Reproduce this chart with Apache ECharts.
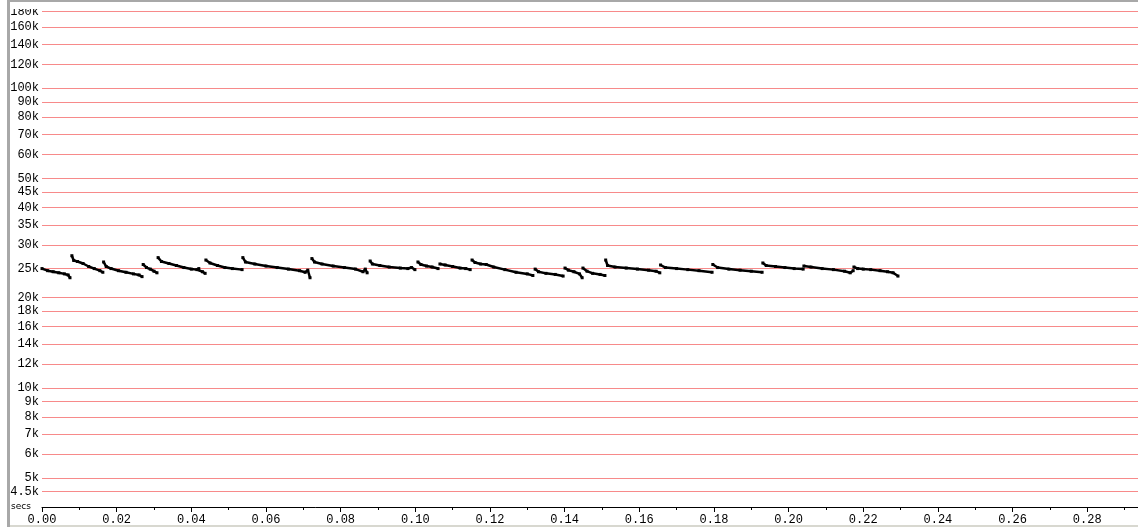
<!DOCTYPE html>
<html>
<head>
<meta charset="utf-8">
<script src="https://cdn.jsdelivr.net/npm/echarts@6/dist/echarts.min.js"></script>
<style>
html,body{margin:0;padding:0;background:#fff;}
#chart{width:1138px;height:527px;}
</style>
</head>
<body>
<div id="chart"></div>
<script>
// Y tick values (gridlines / labels)
const yTicks = [4500, 5000, 6000, 7000, 8000, 9000, 10000, 12000, 14000, 16000, 18000, 20000,
  25000, 30000, 35000, 40000, 45000, 50000, 60000, 70000, 80000, 90000, 100000, 120000, 140000, 160000, 180000];

// Data: time in secs, rate in thousands; null separates segments
const secs = [
  0.0000,0.0015,0.0030,0.0045,0.0060,0.0070,0.0075,null,
  0.0080,0.0085,0.0095,0.0110,0.0125,0.0140,0.0155,0.0163,null,
  0.0165,0.0172,0.0185,0.0205,0.0225,0.0245,0.0260,0.0268,null,
  0.0271,0.0280,0.0290,0.0300,0.0308,null,
  0.0311,0.0320,0.0340,0.0360,0.0380,0.0400,0.0415,0.0420,0.0430,0.0437,null,
  0.0439,0.0450,0.0470,0.0490,0.0510,0.0536,null,
  0.0538,0.0545,0.0570,0.0600,0.0630,0.0660,0.0690,0.0705,0.0712,0.0718,null,
  0.0723,0.0730,0.0750,0.0780,0.0810,0.0840,0.0860,0.0866,0.0871,null,
  0.0879,0.0885,0.0905,0.0930,0.0960,0.0980,0.0990,0.0999,null,
  0.1007,0.1015,0.1030,0.1045,0.1061,null,
  0.1066,0.1080,0.1100,0.1120,0.1135,0.1147,null,
  0.1152,0.1160,0.1175,0.1190,0.1210,0.1240,0.1270,0.1300,0.1315,null,
  0.1321,0.1330,0.1350,0.1375,0.1396,null,
  0.1401,0.1410,0.1425,0.1440,0.1447,null,
  0.1449,0.1460,0.1475,0.1495,0.1508,null,
  0.1510,0.1515,0.1535,0.1565,0.1595,0.1625,0.1645,0.1655,null,
  0.1657,0.1670,0.1700,0.1730,0.1760,0.1795,null,
  0.1797,0.1810,0.1840,0.1870,0.1900,0.1929,null,
  0.1931,0.1940,0.1965,0.1990,0.2015,0.2039,null,
  0.2041,0.2060,0.2090,0.2120,0.2150,0.2165,0.2173,null,
  0.2175,0.2185,0.2200,0.2220,0.2245,0.2265,0.2280,0.2293
];
const rateK = [
  25.0,24.6,24.4,24.2,24.0,23.8,23.3,null,
  27.6,26.6,26.4,26.0,25.4,25.0,24.6,24.3,null,
  26.3,25.4,25.0,24.6,24.3,24.0,23.8,23.5,null,
  25.8,25.2,24.9,24.5,24.2,null,
  27.2,26.4,26.0,25.6,25.2,24.9,24.8,25.0,24.4,24.1,null,
  26.7,26.1,25.6,25.2,25.0,24.8,null,
  27.2,26.3,25.9,25.5,25.2,24.9,24.6,24.3,24.7,23.3,null,
  27.0,26.3,25.9,25.5,25.2,24.9,24.4,24.9,24.2,null,
  26.5,25.9,25.6,25.3,25.1,25.0,25.2,24.8,null,
  26.3,25.8,25.5,25.3,25.0,null,
  25.9,25.7,25.4,25.1,25.0,24.8,null,
  26.7,26.2,25.9,25.8,25.3,24.8,24.3,24.0,23.7,null,
  24.9,24.4,24.1,23.9,23.6,null,
  25.1,24.7,24.4,24.0,23.3,null,
  25.1,24.5,24.1,23.9,23.7,null,
  26.7,25.6,25.3,25.1,24.9,24.7,24.5,24.2,null,
  25.7,25.2,25.0,24.8,24.6,24.3,null,
  25.8,25.2,24.9,24.7,24.5,24.3,null,
  26.1,25.6,25.4,25.2,25.0,24.9,null,
  25.5,25.3,25.0,24.8,24.5,24.2,24.6,null,
  25.3,25.0,24.9,24.8,24.6,24.4,24.2,23.6
];

const seriesData = secs.map((t, i) => (t === null || rateK[i] === null) ? '-' : [t, rateK[i] * 1000]);

const chart = echarts.init(document.getElementById('chart'), null, {renderer: 'canvas'});
const monoFont = '"Liberation Mono", "DejaVu Sans Mono", monospace';

chart.setOption({
  animation: false,
  backgroundColor: '#fff',
  grid: {left: 42, right: 0, top: 2, bottom: 20, containLabel: false},
  xAxis: {
    type: 'value',
    min: 0,
    max: 0.2936,
    interval: 0.02,
    axisLine: {show: true, onZero: false, lineStyle: {color: '#000', width: 1}},
    axisTick: {show: true, length: 5, lineStyle: {color: '#000'}},
    minorTick: {show: true, splitNumber: 2, length: 3, lineStyle: {color: '#000'}},
    splitLine: {show: false},
    axisLabel: {
      show: true, margin: 7, color: '#000', fontFamily: monoFont, fontSize: 12,
      showMaxLabel: false,
      formatter: v => v.toFixed(2)
    }
  },
  yAxis: {
    type: 'log',
    logBase: 10,
    min: 4000,
    max: 194000,
    axisLine: {show: false},
    axisTick: {show: false, customValues: yTicks},
    splitLine: {show: true, lineStyle: {color: '#f78a8a', width: 1}},
    axisLabel: {
      show: true, margin: 3, color: '#000', fontFamily: monoFont, fontSize: 12,
      customValues: yTicks,
      formatter: v => (v / 1000) + 'k'
    }
  },
  series: [{
    type: 'line',
    data: seriesData,
    connectNulls: false,
    showSymbol: true,
    symbol: 'rect',
    symbolSize: 3,
    itemStyle: {color: '#000'},
    lineStyle: {color: '#000', width: 2.5},
    z: 5
  }],
  graphic: [
    {type: 'rect', shape: {x: 10, y: 2, width: 31, height: 7}, style: {fill: '#fff'}, silent: true, z: 100},
    {type: 'rect', shape: {x: 7, y: 0, width: 3, height: 527}, style: {fill: '#a8a8a8'}, silent: true, z: 101},
    {type: 'rect', shape: {x: 7, y: 0, width: 1131, height: 2}, style: {fill: '#a8a8a8'}, silent: true, z: 101},
    {type: 'rect', shape: {x: 10, y: 525, width: 1128, height: 2}, style: {fill: '#d8d8d0'}, silent: true, z: 101},
    {type: 'text', left: 11, top: 502, style: {text: 'secs', font: '9px "DejaVu Sans", sans-serif', fill: '#000'}, silent: true}
  ]
});
</script>
</body>
</html>
